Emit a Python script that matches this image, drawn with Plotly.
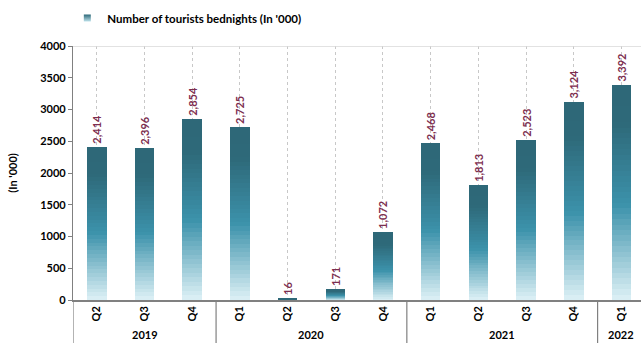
import plotly.graph_objects as go

years = ["2019", "2019", "2019", "2020", "2020", "2020", "2020",
         "2021", "2021", "2021", "2021", "2022"]
quarters = ["Q2", "Q3", "Q4", "Q1", "Q2", "Q3", "Q4",
            "Q1", "Q2", "Q3", "Q4", "Q1"]
bednights = [2414, 2396, 2854, 2725, 16, 171, 1072, 2468, 1813, 2523, 3124, 3392]
series_name = "Number of tourists bednights (In '000)"

FONT = "Lato, 'Liberation Sans', Arial, sans-serif"
LABEL_COLOR = "#7d2e4f"

# gradient stops (fraction from bar bottom -> colour)
stops = [(0.0, (222, 241, 246)), (0.44, (60, 146, 171)), (0.82, (46, 105, 121)), (1.0, (46, 104, 120))]


def grad_color(t):
    for (t0, c0), (t1, c1) in zip(stops[:-1], stops[1:]):
        if t0 <= t <= t1:
            f = (t - t0) / (t1 - t0) if t1 > t0 else 0
            return "rgb(%d,%d,%d)" % tuple(round(a + (b - a) * f) for a, b in zip(c0, c1))
    return "rgb(%d,%d,%d)" % stops[-1][1]


x = list(range(len(bednights)))
N = 40
fig = go.Figure()
for i in range(N):
    last = i == N - 1
    fig.add_trace(go.Bar(
        x=x, y=[v / N for v in bednights],
        marker=dict(color=grad_color((i + 0.5) / N), line=dict(width=0)),
        width=0.41, showlegend=False, hoverinfo="skip",
        text=["<b>{:,}</b>".format(v) for v in bednights] if last else None,
        textposition="outside" if last else "none",
        textangle=-90, constraintext="none", cliponaxis=False,
        textfont=dict(family=FONT, size=11, color=LABEL_COLOR, weight="bold"),
    ))

# legend entry
fig.add_trace(go.Scatter(
    x=[None], y=[None], mode="markers", name="<b>%s</b>" % series_name,
    marker=dict(symbol="square", size=7, color="#2e6979",
                gradient=dict(type="vertical", color="#bfe3ec")),
))

shapes = []
# top line
shapes.append(dict(type="line", xref="paper", yref="y", x0=0, x1=1, y0=4000, y1=4000,
                   line=dict(color="#d9d9d9", width=1.5)))
# group separators
bottom = -0.175
bounds = [-0.5]
for k in range(1, len(years)):
    if years[k] != years[k - 1]:
        bounds.append(k - 0.5)
for b in bounds:
    shapes.append(dict(type="line", xref="x", yref="paper", x0=b, x1=b, y0=bottom, y1=0,
                       line=dict(color="#808080", width=1.2)))

annotations = []
groups = {}
for k, yv in enumerate(years):
    groups.setdefault(yv, []).append(k)
for yv, idx in groups.items():
    annotations.append(dict(x=sum(idx) / len(idx), y=bottom + 0.005, xref="x", yref="paper",
                            text="<b>%s</b>" % yv, showarrow=False, yanchor="bottom",
                            font=dict(family=FONT, size=11, color="#000")))

fig.update_layout(
    width=641, height=343,
    margin=dict(l=73, r=0, t=46, b=43),
    paper_bgcolor="white", plot_bgcolor="white",
    barmode="stack", bargap=0.59,
    font=dict(family=FONT, size=11, color="#000"),
    showlegend=True,
    legend=dict(orientation="h", x=-0.01, xanchor="left", y=1.11, yanchor="middle",
                font=dict(family=FONT, size=11.5, color="#000"),
                itemwidth=30, bgcolor="rgba(0,0,0,0)"),
    shapes=shapes, annotations=annotations,
    xaxis=dict(range=[-0.5, 11.41], tickvals=x, ticktext=["<b>%s</b>" % q for q in quarters],
               tickangle=-90, showgrid=True, gridcolor="#c8c8c8", griddash="dot", gridwidth=1,
               showline=True, linecolor="#808080", linewidth=1.5, ticks="", zeroline=False,
               tickfont=dict(family=FONT, size=11, color="#000")),
    yaxis=dict(range=[0, 4000], tickvals=list(range(0, 4001, 500)),
               ticktext=["<b>%d</b>" % v for v in range(0, 4001, 500)],
               showgrid=False, zeroline=False, showline=True, linecolor="#808080", linewidth=1.2,
               ticks="outside", ticklen=4, tickcolor="#808080",
               title=dict(text="<b>(In '000)</b>", standoff=20, font=dict(family=FONT, size=11)),
               tickfont=dict(family=FONT, size=11, color="#000")),
)

fig.write_html("out.html")
